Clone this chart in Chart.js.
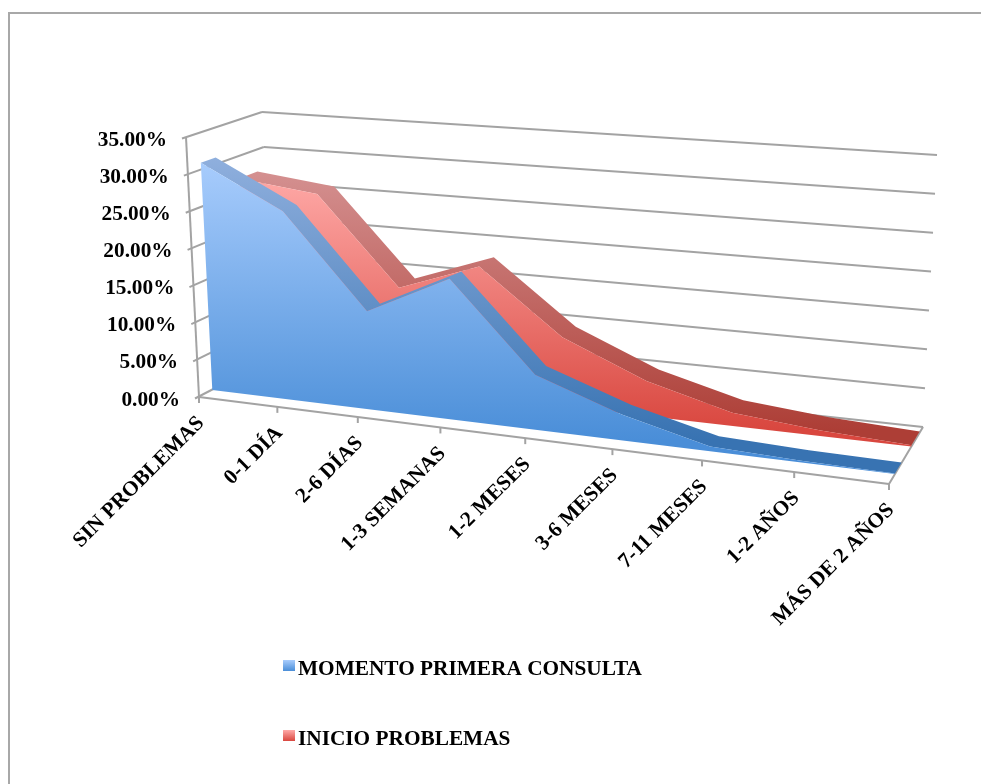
<!DOCTYPE html>
<html>
<head>
<meta charset="utf-8">
<title>Momento primera consulta</title>
<script src="https://cdn.jsdelivr.net/npm/chart.js@4"></script>
<style>
  html, body { margin: 0; padding: 0; background: #fff; }
  #wrap { position: absolute; left: 0; top: 0; width: 981px; height: 784px; }
</style>
</head>
<body>
<div id="wrap"><canvas id="canvas" width="981" height="784"></canvas></div>
<script>

let categories = ['SIN PROBLEMAS', '0-1 DÍA', '2-6 DÍAS', '1-3 SEMANAS', '1-2 MESES', '3-6 MESES', '7-11 MESES', '1-2 AÑOS', 'MÁS DE 2 AÑOS'];
let primeraConsulta = [30.9, 25.3, 13.0, 18.4, 7.1, 3.3, 0.6, 0.2, 0.05];
let inicioProblemas = [26.9, 25.6, 13.7, 17.6, 9.2, 4.6, 1.7, 0.7, 0.15];
let yMax = 35;
let yStep = 5;

// corners of the 3d box on screen, [x, y]
let box = {
  frontBottom: [[199, 397], [889, 484]],
  frontTop:    [[186, 137], [905, 195]],
  backBottom:  [[275, 357], [923, 427]],
  backTop:     [[262, 112], [937, 155]]
};
let gridColor = '#a3a3a3';
let textFont = 'bold 21.3px "Liberation Serif"';

function lerp(a, b, t) {
  return a + (b - a) * t;
}

function lerpPoint(p, q, t) {
  return [lerp(p[0], q[0], t), lerp(p[1], q[1], t)];
}

// u along the categories, v up the values, w into the depth (all 0..1)
function project(u, v, w) {
  let k = 1.115;
  let t = u / (u + (1 - u) * k);
  let front = lerpPoint(lerpPoint(box.frontBottom[0], box.frontBottom[1], t), lerpPoint(box.frontTop[0], box.frontTop[1], t), v);
  let back = lerpPoint(lerpPoint(box.backBottom[0], box.backBottom[1], t), lerpPoint(box.backTop[0], box.backTop[1], t), v);
  return lerpPoint(front, back, w);
}

function uOf(chart, index) {
  let x = chart.scales.x;
  return (x.getPixelForValue(index) - x.left) / x.width;
}

function vOf(chart, value) {
  let y = chart.scales.y;
  return (y.bottom - y.getPixelForValue(value)) / y.height;
}

function addPolygon(ctx, points) {
  ctx.moveTo(points[0][0], points[0][1]);
  for (let i = 1; i < points.length; i++) {
    ctx.lineTo(points[i][0], points[i][1]);
  }
  ctx.closePath();
}

function segment(ctx, a, b) {
  ctx.beginPath();
  ctx.moveTo(a[0], a[1]);
  ctx.lineTo(b[0], b[1]);
  ctx.stroke();
}

function verticalGradient(ctx, top, bottom, c1, c2) {
  let g = ctx.createLinearGradient(0, top, 0, bottom);
  g.addColorStop(0, c1);
  g.addColorStop(1, c2);
  return g;
}

// area series drawn as a slab standing in the depth of the box
class Area3D extends Chart.LineController {
  draw() {
    let chart = this.chart;
    let ctx = chart.ctx;
    let ds = this.getDataset();
    let n = ds.data.length;
    let front = [];
    let back = [];
    for (let i = 0; i < n; i++) {
      let value = this.getParsed(i).y;
      front.push(project(uOf(chart, i), vOf(chart, value), ds.depth[0]));
      back.push(project(uOf(chart, i), vOf(chart, value), ds.depth[1]));
    }
    let base = [project(uOf(chart, n - 1), 0, ds.depth[0]), project(uOf(chart, 0), 0, ds.depth[0])];

    ctx.save();
    let top = Math.min(...back.map(p => p[1]));
    let bottom = ds.shadeBottom;

    // one path, so the joints between the pieces leave no seams
    ctx.fillStyle = verticalGradient(ctx, top, bottom, ds.bandColors[0], ds.bandColors[1]);
    ctx.beginPath();
    for (let i = 0; i < n - 1; i++) {
      addPolygon(ctx, [front[i], back[i], back[i + 1], front[i + 1]]);
    }
    ctx.fill();

    ctx.fillStyle = verticalGradient(ctx, top, bottom, ds.faceColors[0], ds.faceColors[1]);
    ctx.beginPath();
    addPolygon(ctx, front.concat(base));
    ctx.fill();
    ctx.restore();
  }
}
Area3D.id = 'area3d';
Chart.register(Area3D);

let box3d = {
  id: 'box3d',
  beforeDatasetsDraw(chart) {
    let ctx = chart.ctx;
    ctx.save();

    // page frame
    ctx.strokeStyle = '#a8a8a8';
    ctx.lineWidth = 2;
    ctx.beginPath();
    ctx.moveTo(9, 784);
    ctx.lineTo(9, 13);
    ctx.lineTo(981, 13);
    ctx.stroke();

    ctx.strokeStyle = gridColor;
    ctx.lineWidth = 2;

    // walls
    for (let tick of chart.scales.y.ticks) {
      let v = vOf(chart, tick.value);
      let a = project(0, v, 0);
      let b = project(0, v, 1);
      let c = project(1, v, 1);
      segment(ctx, [a[0] - 4, a[1] + 1.5], b);
      segment(ctx, b, c);
    }
    segment(ctx, project(0, 0, 0), project(0, 1, 0));

    // floor
    segment(ctx, project(0, 0, 0), project(1, 0, 0));
    segment(ctx, project(1, 0, 0), project(1, 0, 1));
    for (let i = 0; i < chart.scales.x.ticks.length; i++) {
      let p = project(uOf(chart, i), 0, 0);
      segment(ctx, p, [p[0], p[1] + 6]);
    }
    ctx.restore();
  },
  afterDraw(chart) {
    let ctx = chart.ctx;
    ctx.save();
    ctx.fillStyle = '#000';
    ctx.font = textFont;

    // value labels
    ctx.textAlign = 'right';
    ctx.textBaseline = 'middle';
    for (let tick of chart.scales.y.ticks) {
      let p = project(0, vOf(chart, tick.value), 0);
      ctx.fillText(tick.label, p[0] - 19, p[1] + 3);
    }

    // category labels
    chart.scales.x.ticks.forEach(function(tick, i) {
      let p = project(uOf(chart, i), 0, 0);
      ctx.save();
      ctx.translate(p[0] + 2, p[1] + 23);
      ctx.rotate(-Math.PI / 4);
      ctx.textBaseline = 'middle';
      ctx.fillText(tick.label, 0, 0);
      ctx.restore();
    });

    // legend
    ctx.textAlign = 'left';
    ctx.textBaseline = 'alphabetic';
    chart.data.datasets.forEach(function(ds, i) {
      let y = 660 + i * 70;
      ctx.fillStyle = verticalGradient(ctx, y, y + 11, ds.faceColors[0], ds.faceColors[1]);
      ctx.fillRect(283, y, 12, 11);
      ctx.fillStyle = '#000';
      ctx.fillText(ds.label, 298, y + 15);
    });
    ctx.restore();
  }
};

let options = {
  type: 'area3d',
  data: {
    labels: categories,
    datasets: [{
      label: 'MOMENTO PRIMERA CONSULTA',
      data: primeraConsulta,
      depth: [0.175, 0.37],
      faceColors: ['#a9cdfd', '#4a8ed8'],
      bandColors: ['#8fafdd', '#3873b2'],
      shadeBottom: 440,
      clip: false
    }, {
      label: 'INICIO PROBLEMAS',
      data: inicioProblemas,
      depth: [0.66, 0.9],
      faceColors: ['#ffaaa8', '#d9473f'],
      bandColors: ['#d49090', '#ad3e36'],
      shadeBottom: 430,
      clip: false
    }]
  },
  options: {
    responsive: false,
    animation: false,
    events: [],
    layout: { padding: 0 },
    scales: {
      x: {
        type: 'category',
        display: false,
        offset: false,
        ticks: { autoSkip: false }
      },
      y: {
        type: 'linear',
        display: false,
        min: 0,
        max: yMax,
        ticks: {
          stepSize: yStep,
          callback: function(value) { return value.toFixed(2) + '%'; }
        }
      }
    },
    plugins: {
      legend: { display: false },
      tooltip: { enabled: false }
    }
  },
  plugins: [box3d]
};

let chart = new Chart(document.getElementById('canvas'), options);

</script>
</body>
</html>
